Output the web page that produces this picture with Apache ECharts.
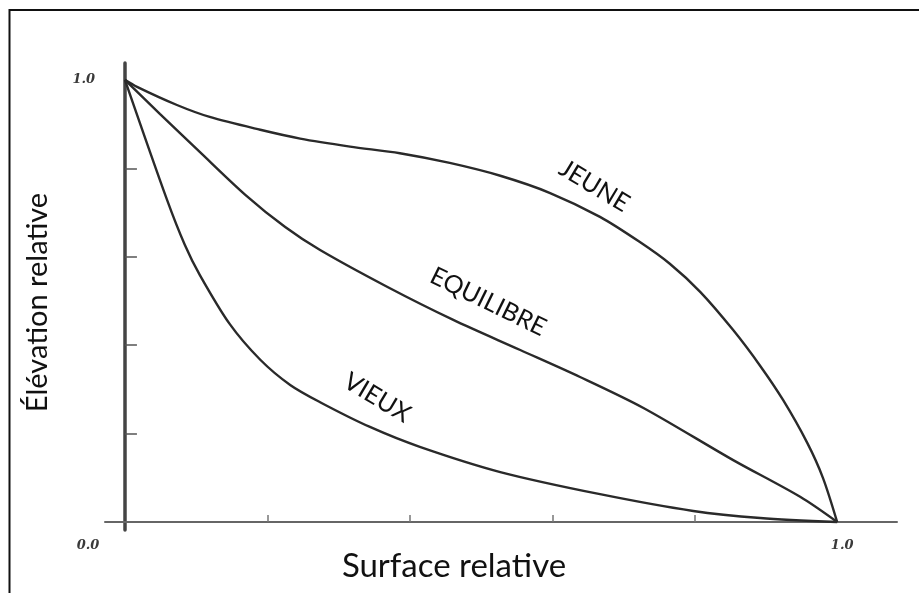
<!DOCTYPE html>
<html>
<head>
<meta charset="utf-8">
<script src="https://cdn.jsdelivr.net/npm/echarts@6/dist/echarts.min.js"></script>
<style>
  html, body { margin: 0; padding: 0; background: #fff; }
  #chart { width: 919px; height: 593px; }
</style>
</head>
<body>
<div id="chart"></div>
<script>
// Surface relative (x) / Élévation relative (y)
const jeuneX = [0, 0.017, 0.073, 0.119, 0.190, 0.246, 0.316, 0.386, 0.456, 0.527, 0.597, 0.667, 0.723, 0.765, 0.808, 0.854, 0.892, 0.924, 0.958, 0.980, 1];
const jeuneY = [1, 0.984, 0.943, 0.916, 0.887, 0.867, 0.849, 0.834, 0.812, 0.783, 0.744, 0.690, 0.633, 0.584, 0.520, 0.434, 0.353, 0.276, 0.179, 0.100, 0];

const equilibreX = [0, 0.049, 0.105, 0.169, 0.225, 0.274, 0.368, 0.461, 0.555, 0.639, 0.728, 0.854, 0.948, 1];
const equilibreY = [1, 0.923, 0.837, 0.740, 0.667, 0.615, 0.532, 0.457, 0.389, 0.328, 0.258, 0.140, 0.057, 0];

const vieuxX = [0, 0.059, 0.084, 0.105, 0.147, 0.190, 0.232, 0.274, 0.344, 0.414, 0.527, 0.667, 0.798, 0.892, 1];
const vieuxY = [1, 0.729, 0.627, 0.559, 0.448, 0.367, 0.310, 0.271, 0.215, 0.170, 0.113, 0.063, 0.025, 0.009, 0];

const curveNames = ['JEUNE', 'EQUILIBRE', 'VIEUX'];
const tickValues = [0.2, 0.4, 0.6, 0.8];

const pairs = (xs, ys) => xs.map((x, i) => [x, ys[i]]);

const lineColor = '#2a2a2a';
const tickFont = {
    fontFamily: 'DejaVu Serif',
    fontStyle: 'italic',
    fontWeight: 'bold',
    fontSize: 13,
    color: '#3a3a3a'
};

const myChart = echarts.init(document.getElementById('chart'));

const option = {
    backgroundColor: '#fff',
    animation: false,
    grid: { left: 105, right: 22, top: 63, bottom: 63, outerBoundsMode: 'none', containLabel: false },
    xAxis: {
        type: 'value',
        min: -0.028,
        max: 1.084,
        name: 'Surface relative',
        nameLocation: 'middle',
        nameGap: 20,
        nameMoveOverlap: false,
        nameTextStyle: {
            fontFamily: 'Lato',
            fontSize: 33,
            color: '#111',
            padding: [0, 94, 0, 0]
        },
        axisLine: { onZero: true, lineStyle: { color: '#666', width: 2 } },
        axisTick: {
            inside: true,
            length: 7,
            customValues: tickValues,
            lineStyle: { color: '#777', width: 1.5 }
        },
        axisLabel: {
            customValues: [0, 1],
            margin: 9,
            formatter: function (v) {
                return v === 0 ? '{z|0.0}' : '{o|1.0}';
            },
            rich: {
                z: Object.assign({ padding: [0, 74, 0, 0] }, tickFont),
                o: Object.assign({ padding: [0, 0, 0, 10] }, tickFont)
            }
        },
        splitLine: { show: false }
    },
    yAxis: {
        type: 'value',
        min: -0.018,
        max: 1.038,
        name: 'Élévation relative',
        nameLocation: 'middle',
        nameGap: 53,
        nameMoveOverlap: false,
        nameTextStyle: {
            fontFamily: 'Lato',
            fontSize: 29,
            color: '#111',
            padding: [0, 12, 0, 0]
        },
        axisLine: { onZero: true, lineStyle: { color: '#444', width: 3.5 } },
        axisTick: {
            inside: true,
            length: 12,
            customValues: tickValues,
            lineStyle: { color: '#555', width: 1.5 }
        },
        axisLabel: {
            customValues: [1],
            margin: 10,
            formatter: function () { return '1.0'; },
            fontFamily: tickFont.fontFamily,
            fontStyle: tickFont.fontStyle,
            fontWeight: tickFont.fontWeight,
            fontSize: tickFont.fontSize,
            color: tickFont.color
        },
        splitLine: { show: false }
    },
    series: [
        [jeuneX, jeuneY],
        [equilibreX, equilibreY],
        [vieuxX, vieuxY]
    ].map(function (d, i) {
        return {
            name: curveNames[i],
            type: 'line',
            data: pairs(d[0], d[1]),
            smooth: 0.3,
            showSymbol: false,
            symbol: 'none',
            lineStyle: { color: lineColor, width: 2.4 }
        };
    }),
    graphic: [{
        type: 'polyline',
        shape: { points: [[9.5, 593], [9.5, 10], [919, 10]] },
        style: { stroke: '#111', lineWidth: 2, fill: null }
    }]
};

myChart.setOption(option, true);

// curve names, anchored in data space and turned along their curve
const nameAnchors = [
    { at: [0.659, 0.760], angle: -31 },
    { at: [0.510, 0.498], angle: -26 },
    { at: [0.354, 0.281], angle: -31 }
];
myChart.setOption({
    graphic: option.graphic.concat(nameAnchors.map(function (a, i) {
        const p = myChart.convertToPixel({ gridIndex: 0 }, a.at);
        return {
            type: 'text',
            x: p[0],
            y: p[1],
            rotation: a.angle * Math.PI / 180,
            style: {
                text: curveNames[i],
                fontFamily: 'Lato',
                fontSize: 25,
                fill: '#111',
                align: 'center',
                verticalAlign: 'middle'
            }
        };
    }))
});

window.onresize = function () {
    myChart.resize();
};
</script>
</body>
</html>
